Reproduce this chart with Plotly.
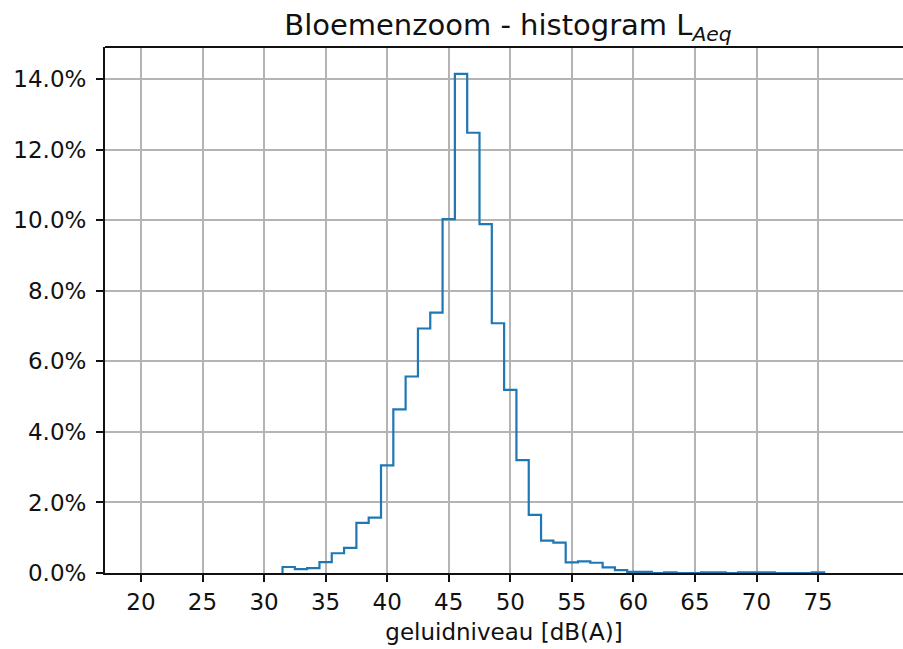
import plotly.graph_objects as go

# 1 dB bins, centred on whole decibels
bin_centers = list(range(32, 76))
percentages = [
    0.17, 0.11, 0.14, 0.31, 0.56, 0.71, 1.42, 1.57, 3.05, 4.64,
    5.57, 6.93, 7.38, 10.03, 14.15, 12.48, 9.89, 7.08, 5.19, 3.20,
    1.65, 0.92, 0.86, 0.30, 0.33, 0.29, 0.16, 0.08, 0.03, 0.03,
    0.00, 0.02, 0.00, 0.00, 0.02, 0.02, 0.00, 0.02, 0.02, 0.02,
    0.00, 0.00, 0.00, 0.02,
]
x_ticks = [20, 25, 30, 35, 40, 45, 50, 55, 60, 65, 70, 75]
y_ticks = [0, 2, 4, 6, 8, 10, 12, 14]
y_tick_labels = [f"{v:.1f}%" for v in y_ticks]

# step outline: rise from zero at the first edge, fall back to zero at the last
edges = [c - 0.5 for c in bin_centers] + [bin_centers[-1] + 0.5]
step_x = [edges[0]] + edges[:-1] + [edges[-1], edges[-1]]
step_y = [0] + percentages + [percentages[-1], 0]

fig = go.Figure()
fig.add_trace(go.Scatter(
    x=step_x, y=step_y, mode="lines",
    line=dict(color="#1f77b4", width=2.2, shape="hv"),
    hoverinfo="skip", showlegend=False,
))

font = "DejaVu Sans, Verdana, sans-serif"
fig.update_layout(
    width=903, height=649,
    margin=dict(l=105, r=0, t=47, b=76),
    paper_bgcolor="white", plot_bgcolor="white",
    font=dict(family=font, size=23, color="#111111"),
    title=dict(
        text="Bloemenzoom - histogram L<sub><i>Aeq</i></sub>",
        x=0.505, xref="paper", xanchor="center",
        y=0.962, yref="container", yanchor="middle",
        font=dict(size=29, family=font, color="#111111"),
    ),
)
fig.update_xaxes(
    range=[17.08, 81.9],
    tickmode="array", tickvals=x_ticks,
    ticks="outside", ticklen=7, tickwidth=2, tickcolor="#111111",
    showline=True, linecolor="#111111", linewidth=2, mirror=False,
    showgrid=True, gridcolor="#b4b4b4", gridwidth=1.6,
    zeroline=False,
    title=dict(text="geluidniveau [dB(A)]", font=dict(size=23), standoff=10),
)
fig.update_yaxes(
    range=[0, 14.91],
    tickmode="array", tickvals=y_ticks, ticktext=y_tick_labels,
    ticks="outside", ticklen=7, tickwidth=2, tickcolor="#111111",
    ticklabelstandoff=5,
    showline=True, linecolor="#111111", linewidth=2,
    showgrid=True, gridcolor="#b4b4b4", gridwidth=1.6,
    zeroline=False,
)
# top spine
fig.add_shape(type="line", xref="paper", yref="paper", x0=0, x1=1, y0=1, y1=1,
              line=dict(color="#111111", width=2))

fig.write_html("out.html")
